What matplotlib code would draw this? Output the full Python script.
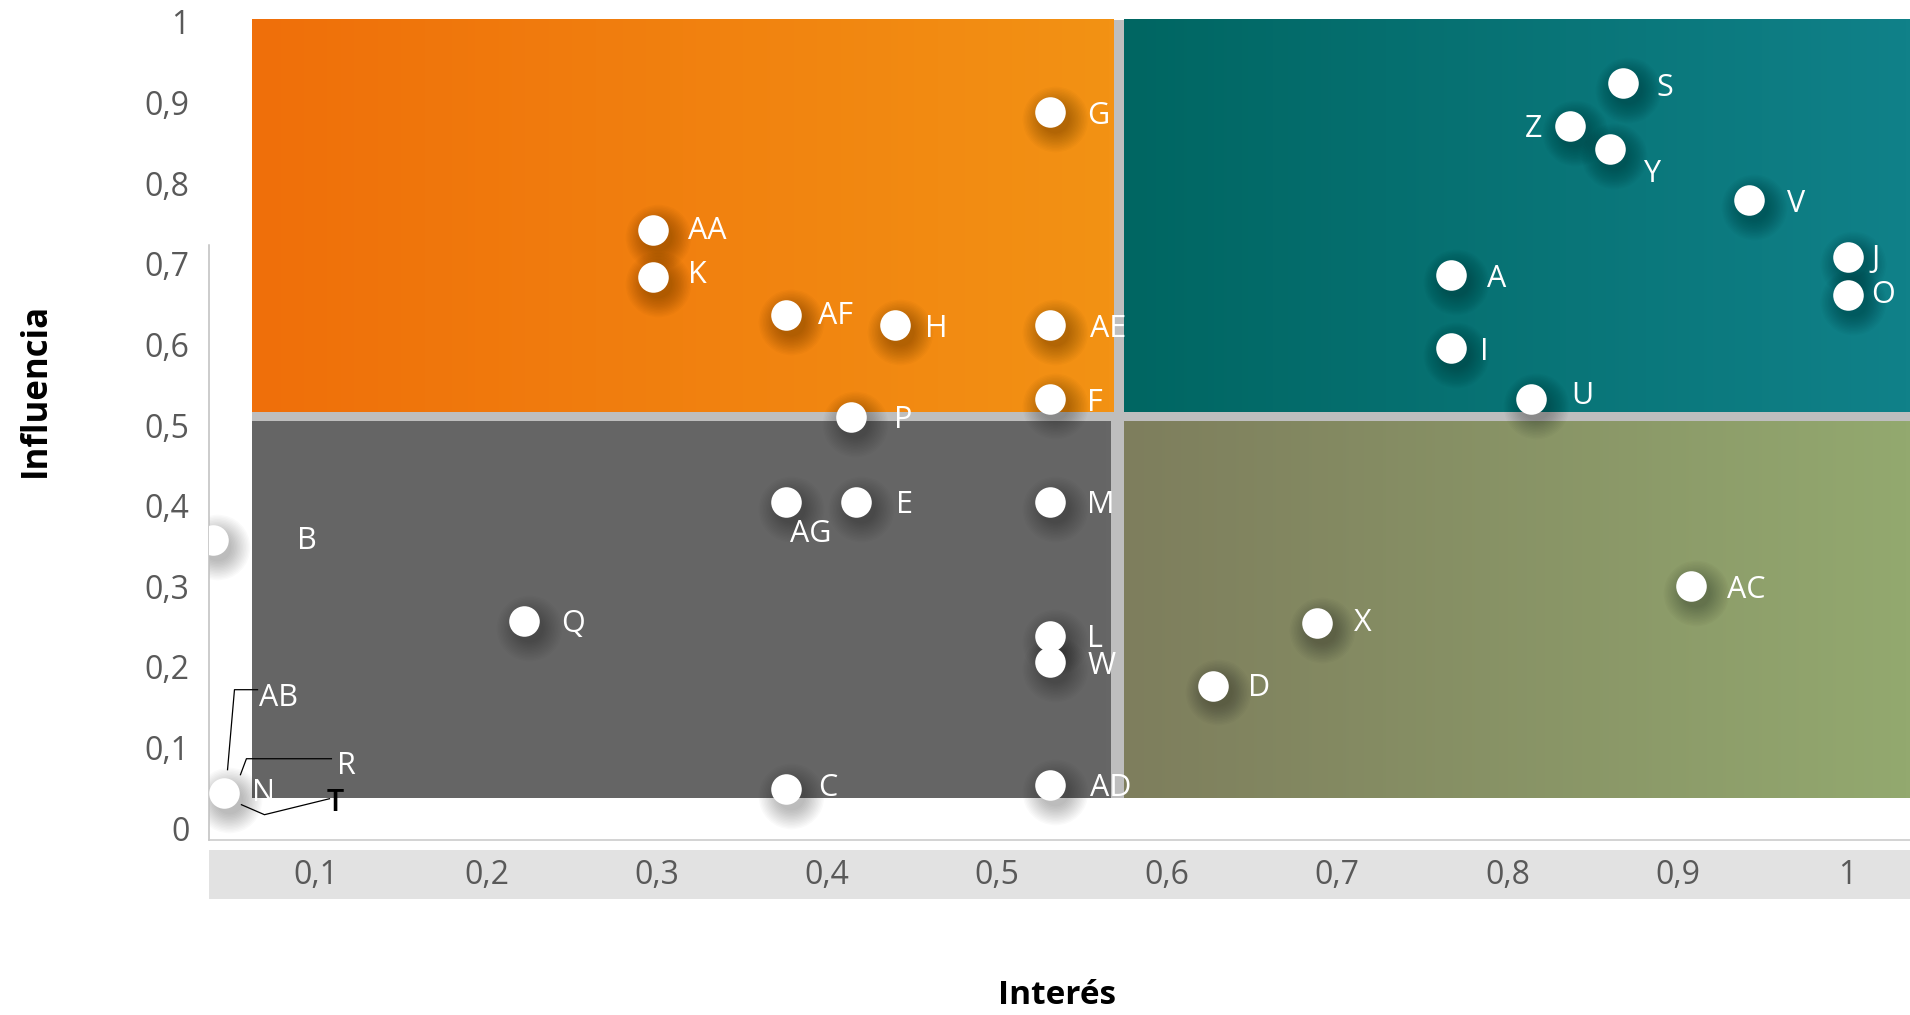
import numpy as np
import matplotlib
matplotlib.use("Agg")
import matplotlib.pyplot as plt
from matplotlib.colors import LinearSegmentedColormap
from matplotlib.patches import Rectangle
from matplotlib import transforms

# stakeholder points: (Interés, Influencia)
names = ['A', 'B', 'C', 'D', 'E', 'F', 'G', 'H', 'I', 'J', 'K', 'L', 'M', 'N', 'O', 'P',
         'Q', 'R', 'S', 'T', 'U', 'V', 'W', 'X', 'Y', 'Z', 'AA', 'AB', 'AC', 'AD', 'AE', 'AF', 'AG']
interes = [0.767, 0.039, 0.376, 0.627, 0.417, 0.531, 0.531, 0.440, 0.767, 1.000, 0.298,
           0.531, 0.531, 0.046, 1.000, 0.414, 0.222, 0.046, 0.868, 0.046, 0.814, 0.942,
           0.531, 0.688, 0.860, 0.837, 0.298, 0.046, 0.908, 0.531, 0.531, 0.376, 0.376]
influencia = [0.686, 0.357, 0.049, 0.177, 0.405, 0.532, 0.888, 0.624, 0.595, 0.708, 0.684,
              0.239, 0.405, 0.044, 0.661, 0.510, 0.257, 0.044, 0.924, 0.044, 0.532, 0.779,
              0.206, 0.255, 0.842, 0.871, 0.742, 0.044, 0.300, 0.054, 0.624, 0.636, 0.405]

xticks = [0.1, 0.2, 0.3, 0.4, 0.5, 0.6, 0.7, 0.8, 0.9, 1.0]
xticklabels = ['0,1', '0,2', '0,3', '0,4', '0,5', '0,6', '0,7', '0,8', '0,9', '1']
yticks = [0, 0.1, 0.2, 0.3, 0.4, 0.5, 0.6, 0.7, 0.8, 0.9, 1.0]
yticklabels = ['0', '0,1', '0,2', '0,3', '0,4', '0,5', '0,6', '0,7', '0,8', '0,9', '1']

# label placement (offset points), default to the right of the dot
label_off = {'S': (24, -1), 'Z': (-20, 0, 'right'), 'Y': (24, -15), 'J': (17, 1), 'O': (17, 3),
             'U': (29, 5), 'AG': (18, -21, 'center'), 'B': (61, 2), 'AA': (25, 2), 'K': (25, 3.5),
             'AF': (23, 2), 'H': (22, 0), 'AE': (29, 0), 'P': (31, 0), 'E': (29, 0), 'A': (26, 0),
             'I': (21, 0), 'X': (27, 2), 'D': (25, 1), 'AC': (26, 0), 'AD': (29, 0), 'C': (23, 3),
             'N': (19.5, 2), 'AB': (25, 70.6), 'R': (81, 21.6), 'T': (73.4, -5)}
leaders = {'AB': [(2.2, 16.6), (7.2, 74.2), (23.8, 74.2)],
           'R': [(11.5, 13), (15.8, 24.5), (77, 24.5)],
           'T': [(12.2, -8.6), (28.8, -15.8), (75.6, -4.3)]}

plt.rcParams['font.family'] = ['Open Sans', 'DejaVu Sans']

fig = plt.figure(figsize=(19.1, 10.15), dpi=100)
ax = fig.add_axes([0.10942, 0.17241, 0.89058, 0.82759])
x0, x1 = 0.0369, 1.0366
y0, y1 = -0.0146, 1.0272


def grad_rect(xa, xb, ya, yb, c1, c2):
    cm = LinearSegmentedColormap.from_list('g', [c1, c2])
    ax.imshow(np.linspace(0, 1, 256).reshape(1, -1), cmap=cm, extent=[xa, xb, ya, yb],
              aspect='auto', interpolation='bilinear', zorder=1)


ax.add_patch(Rectangle((0.0623, 0.0378), 1.1, 0.9652, color='#BEBEBE', lw=0, zorder=0.5))
grad_rect(0.0623, 0.5688, 0.5166, 1.003, '#EF6F0A', '#F39214')
grad_rect(0.5746, 1.0366, 0.5166, 1.003, '#006662', '#108189')
grad_rect(0.0623, 0.567, 0.0378, 0.5045, '#656565', '#666666')
grad_rect(0.5746, 1.0366, 0.0378, 0.5045, '#7E7E5D', '#93A96F')

# overlapping points share one marker (and one shadow)
pts = sorted(set(zip(interes, influencia)))
ux = [p[0] for p in pts]
uy = [p[1] for p in pts]

# soft shadows
sh = transforms.ScaledTranslation(3.5 / 72, -5 / 72, fig.dpi_scale_trans)
for k in range(14):
    d = 20 + k * 2.1
    ax.scatter(ux, uy, s=d ** 2, color='black', alpha=0.018, lw=0,
               transform=ax.transData + sh, zorder=2)
ax.scatter(ux, uy, s=22 ** 2, color='white', lw=0, zorder=3)

ax.set_xlim(x0, x1)
ax.set_ylim(y0, y1)

for n, xv, yv in zip(names, interes, influencia):
    o = label_off.get(n, (27, 0))
    ha = o[2] if len(o) > 2 else 'left'
    col = 'black' if n == 'T' else 'white'
    fw = 'semibold' if n == 'T' else 'normal'
    ax.annotate(n, (xv, yv), xytext=(o[0], o[1] - 2.5), textcoords='offset points', ha=ha,
                va='center', fontsize=22, color=col, fontweight=fw, zorder=5)
    if n in leaders:
        base = ax.transData.transform((xv, yv))
        tr = transforms.Affine2D().scale(fig.dpi / 72.).translate(base[0], base[1])
        lp = np.array(leaders[n])
        ax.plot(lp[:, 0], lp[:, 1], color='black', lw=0.9, transform=tr, clip_on=False, zorder=4)

# axes frame
for s in ['top', 'right']:
    ax.spines[s].set_visible(False)
ax.spines['left'].set_bounds(y0, 0.723)
ax.spines['left'].set_color('#BFBFBF')
ax.spines['left'].set_linewidth(1.1)
ax.spines['bottom'].set_color('#C8C8C8')
ax.spines['bottom'].set_linewidth(1.1)

ax.add_patch(Rectangle((0, -0.0702), 1, 0.0583, transform=ax.transAxes, color='#E2E2E2',
                       lw=0, clip_on=False))
ax.set_xticks(xticks)
ax.set_xticklabels(xticklabels)
ax.set_yticks(yticks)
ax.set_yticklabels(yticklabels)
ax.tick_params(axis='both', length=0, labelsize=23, labelcolor='#595959')
ax.tick_params(axis='x', pad=14)
ax.tick_params(axis='y', pad=14)

fig.text(1057 / 1910, 1 - 996 / 1015, 'Interés', ha='center', va='center', fontsize=24,
         fontweight='bold', color='black')
fig.text(36 / 1910, 1 - 390 / 1015, 'Influencia', ha='center', va='center', fontsize=25,
         fontweight='bold', color='black', rotation=90)

fig.savefig('out.png', dpi=100)
